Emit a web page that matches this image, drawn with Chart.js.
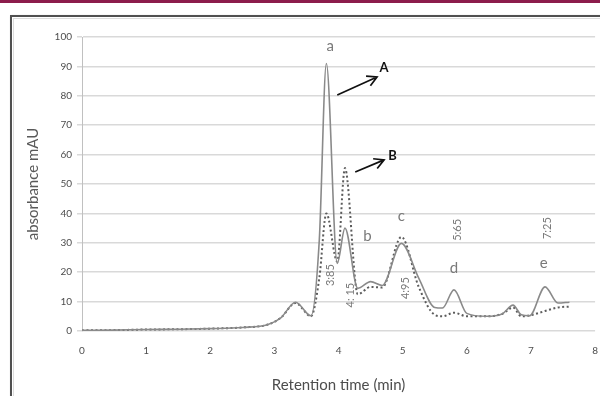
<!DOCTYPE html>
<html>
<head>
<meta charset="utf-8">
<script src="https://cdn.jsdelivr.net/npm/chart.js@4.4.0/dist/chart.umd.min.js"></script>
<style>
  html, body { margin: 0; padding: 0; width: 600px; height: 396px; overflow: hidden; background: #fff; }
  .topbar { position: absolute; left: 0; top: 0; width: 600px; height: 3px; background: #8c1d4c; }
  .frame { position: absolute; left: 10px; top: 15px; width: 640px; height: 420px; border: 2px solid #505050; box-shadow: 1px 1px 2px #aaa; }
  .inner { position: absolute; left: 13px; top: 18px; width: 640px; height: 420px; border: 1px solid #dcdcdc; }
  .wrap { position: absolute; left: 0; top: 0; width: 612px; height: 396px; }
</style>
</head>
<body>
<div class="topbar"></div>
<div class="frame"></div>
<div class="inner"></div>
<div class="wrap"><canvas id="c" width="612" height="396"></canvas></div>
<script>
// retention times (min) and absorbance (mAU)
const times   = [0, 0.5, 1, 1.5, 2, 2.5, 2.9, 3.1, 3.33, 3.57, 3.7, 3.81, 3.98, 4.1, 4.3, 4.5, 4.68, 4.98, 5.25, 5.5, 5.62, 5.8, 6.0, 6.3, 6.55, 6.72, 6.85, 6.98, 7.22, 7.42, 7.6];
const seriesA = [0.2, 0.3, 0.5, 0.6, 0.8, 1.2, 2.2, 4.5, 9.8, 5.2, 31, 91, 23, 35, 14.5, 16.8, 15.5, 29.8, 18, 8, 7.8, 14, 6, 5, 5.8, 8.8, 5.5, 5.2, 15, 9.5, 9.8];
const seriesB = [0.2, 0.3, 0.5, 0.6, 0.8, 1.2, 2.2, 4.5, 9.5, 5, 18, 40, 23.6, 55.4, 12.5, 15, 14.8, 32, 15, 5.5, 5, 6.2, 5, 5, 5.8, 8, 5, 5.3, 6.8, 8, 8.3];
const xTicks = [0, 1, 2, 3, 4, 5, 6, 7, 8];
const yTicks = [0, 10, 20, 30, 40, 50, 60, 70, 80, 90, 100];

const peakLabels = [
  { text: 'a', x: 3.87, y: 97 },
  { text: 'b', x: 4.45, y: 32.3 },
  { text: 'c', x: 4.98, y: 39 },
  { text: 'd', x: 5.8, y: 21.4 },
  { text: 'e', x: 7.2, y: 23.1 }
];
const timeLabels = [
  { text: '3:85', x: 3.88, y: 19 },
  { text: '4: 15', x: 4.19, y: 12.2 },
  { text: '4:95', x: 5.05, y: 14.6 },
  { text: '5:65', x: 5.85, y: 34.4 },
  { text: '7:25', x: 7.25, y: 35 }
];
const arrows = [
  { text: 'A', from: [3.98, 80.3], to: [4.6, 86.4], at: [4.71, 89.5] },
  { text: 'B', from: [4.26, 54.1], to: [4.71, 58.2], at: [4.84, 59.5] }
];

const annotate = {
  id: 'annotate',
  afterDatasetsDraw(chart) {
    const { ctx, scales: { x, y } } = chart;
    ctx.save();
    ctx.textAlign = 'center';
    ctx.textBaseline = 'middle';
    ctx.fillStyle = '#7a7a7a';
    ctx.font = '15px Lato';
    peakLabels.forEach(p => ctx.fillText(p.text, x.getPixelForValue(p.x), y.getPixelForValue(p.y)));
    ctx.font = '11px Lato';
    timeLabels.forEach(p => {
      ctx.save();
      ctx.translate(x.getPixelForValue(p.x), y.getPixelForValue(p.y));
      ctx.rotate(-Math.PI / 2);
      ctx.fillText(p.text, 0, 0);
      ctx.restore();
    });
    ctx.strokeStyle = '#111';
    ctx.fillStyle = '#111';
    ctx.lineWidth = 1.7;
    ctx.font = 'bold 13px Lato';
    arrows.forEach(a => {
      const x0 = x.getPixelForValue(a.from[0]), y0 = y.getPixelForValue(a.from[1]);
      const x1 = x.getPixelForValue(a.to[0]), y1 = y.getPixelForValue(a.to[1]);
      const ang = Math.atan2(y1 - y0, x1 - x0);
      ctx.beginPath();
      ctx.moveTo(x0, y0); ctx.lineTo(x1, y1);
      ctx.moveTo(x1 - 11 * Math.cos(ang - 0.5), y1 - 11 * Math.sin(ang - 0.5));
      ctx.lineTo(x1, y1);
      ctx.lineTo(x1 - 11 * Math.cos(ang + 0.5), y1 - 11 * Math.sin(ang + 0.5));
      ctx.stroke();
      ctx.fillText(a.text, x.getPixelForValue(a.at[0]), y.getPixelForValue(a.at[1]));
    });
    ctx.restore();
  }
};

new Chart(document.getElementById('c'), {
  type: 'line',
  data: {
    datasets: [
      { label: 'A', data: times.map((t, i) => ({ x: t, y: seriesA[i] })), borderColor: '#8a8a8a', borderWidth: 1.6, pointRadius: 0, cubicInterpolationMode: 'monotone' },
      { label: 'B', data: times.map((t, i) => ({ x: t, y: seriesB[i] })), borderColor: '#5c5c5c', borderWidth: 2, borderDash: [2, 2.5], pointRadius: 0, cubicInterpolationMode: 'monotone' }
    ]
  },
  options: {
    responsive: false,
    animation: false,
    layout: { padding: { left: 18, top: 37, right: 15, bottom: 0 } },
    plugins: { legend: { display: false }, tooltip: { enabled: false } },
    scales: {
      x: {
        type: 'linear', min: 0, max: 8,
        afterBuildTicks: s => { s.ticks = xTicks.map(v => ({ value: v })); },
        afterFit: s => { s.height = 65; },
        grid: { display: false, drawTicks: false },
        border: { display: false },
        ticks: { color: '#4d4d4d', font: { family: 'Lato', size: 10 }, padding: 14 },
        title: { display: true, text: 'Retention time (min)', color: '#4d4d4d', font: { family: 'Lato', size: 15 }, padding: { top: 0, bottom: 2 } }
      },
      y: {
        min: 0, max: 100,
        afterBuildTicks: s => { s.ticks = yTicks.map(v => ({ value: v })); },
        afterFit: s => { s.width = 64; },
        grid: { color: '#d9d9d9', lineWidth: 1.5, tickLength: 5 },
        border: { color: '#c0c0c0', width: 1 },
        ticks: { color: '#4d4d4d', font: { family: 'Lato', size: 10 }, padding: 5 },
        title: { display: true, text: 'absorbance mAU', color: '#595959', font: { family: 'Lato', size: 15 }, padding: { top: 6, bottom: 0 } }
      }
    }
  },
  plugins: [annotate]
});
</script>
</body>
</html>
